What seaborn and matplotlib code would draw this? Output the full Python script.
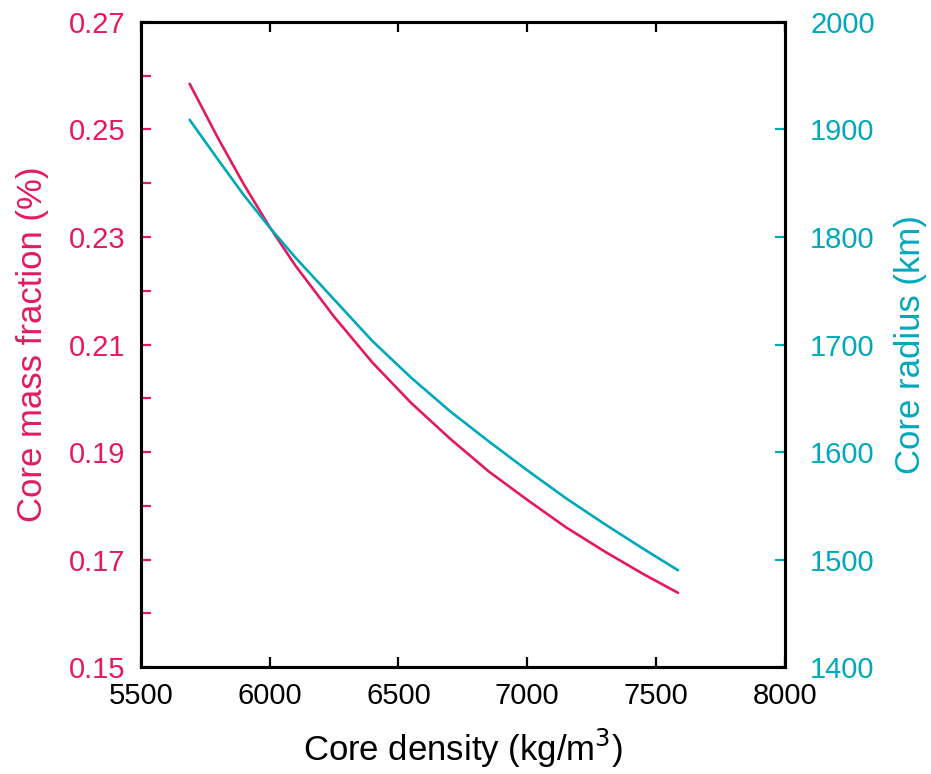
import matplotlib
matplotlib.use("Agg")
import matplotlib.pyplot as plt
from matplotlib.ticker import MultipleLocator, FixedLocator
import seaborn as sns
import pandas as pd

density = [5690, 5800, 5900, 6000, 6100, 6250, 6400, 6550, 6700, 6850, 7000, 7150, 7300, 7450, 7585]
mass_fraction = [0.2585, 0.2484, 0.2398, 0.2319, 0.2247, 0.2152, 0.2066, 0.1991, 0.1925,
                 0.1864, 0.1811, 0.1760, 0.1715, 0.1673, 0.1638]
core_radius = [1909, 1872, 1839, 1809, 1781, 1742, 1703, 1669, 1638, 1610, 1583, 1557,
               1533, 1510, 1490]

x_ticks = [5500, 6000, 6500, 7000, 7500, 8000]
left_ticks = [0.15, 0.17, 0.19, 0.21, 0.23, 0.25, 0.27]
right_ticks = [1400, 1500, 1600, 1700, 1800, 1900, 2000]

PINK = "#E5195E"
CYAN = "#00A8BC"

sns.set_style("white")
plt.rcParams["font.family"] = ["Liberation Sans", "DejaVu Sans"]

df = pd.DataFrame({"density": density, "frac": mass_fraction, "radius": core_radius})

fig = plt.figure(figsize=(9.31, 7.74), dpi=100)
ax = fig.add_axes([0.1511, 0.1382, 0.8432 - 0.1511, 0.9716 - 0.1382])
ax2 = ax.twinx()

sns.lineplot(data=df, x="density", y="frac", ax=ax, color=PINK, linewidth=1.9, sort=False)
sns.lineplot(data=df, x="density", y="radius", ax=ax2, color=CYAN, linewidth=1.9, sort=False)

ax.set_xlim(5500, 8000)
ax.set_ylim(0.15, 0.27)
ax2.set_ylim(1400, 2000)

ax.xaxis.set_major_locator(FixedLocator(x_ticks))
ax.set_xticklabels([str(t) for t in x_ticks])
ax.yaxis.set_major_locator(FixedLocator(left_ticks))
ax.set_yticklabels([f"{t:.2f}" for t in left_ticks])
ax.yaxis.set_minor_locator(MultipleLocator(0.01))
ax2.yaxis.set_major_locator(FixedLocator(right_ticks))
ax2.set_yticklabels([str(t) for t in right_ticks])

for a in (ax, ax2):
    for s in a.spines.values():
        s.set_linewidth(2.2)
        s.set_color("black")
        s.set_visible(True)

ax.tick_params(axis="x", which="both", direction="in", top=True, bottom=True,
               length=7, width=1.6, colors="black", labelsize=21, pad=11)
ax.tick_params(axis="y", which="both", direction="in", left=True, right=False,
               length=7, width=1.6, colors=PINK, labelsize=21, pad=11)
ax2.tick_params(axis="y", which="both", direction="in", right=True, left=False,
                length=7, width=1.6, colors=CYAN, labelsize=21, pad=18)

ax.set_xlabel("Core density (kg/m$^3$)", fontsize=25, color="black", labelpad=12)
ax.set_ylabel("Core mass fraction (%)", fontsize=25, color=PINK, labelpad=14)
ax2.set_ylabel("Core radius (km)", fontsize=25, color=CYAN, labelpad=14)

fig.savefig("out.png", dpi=100)
